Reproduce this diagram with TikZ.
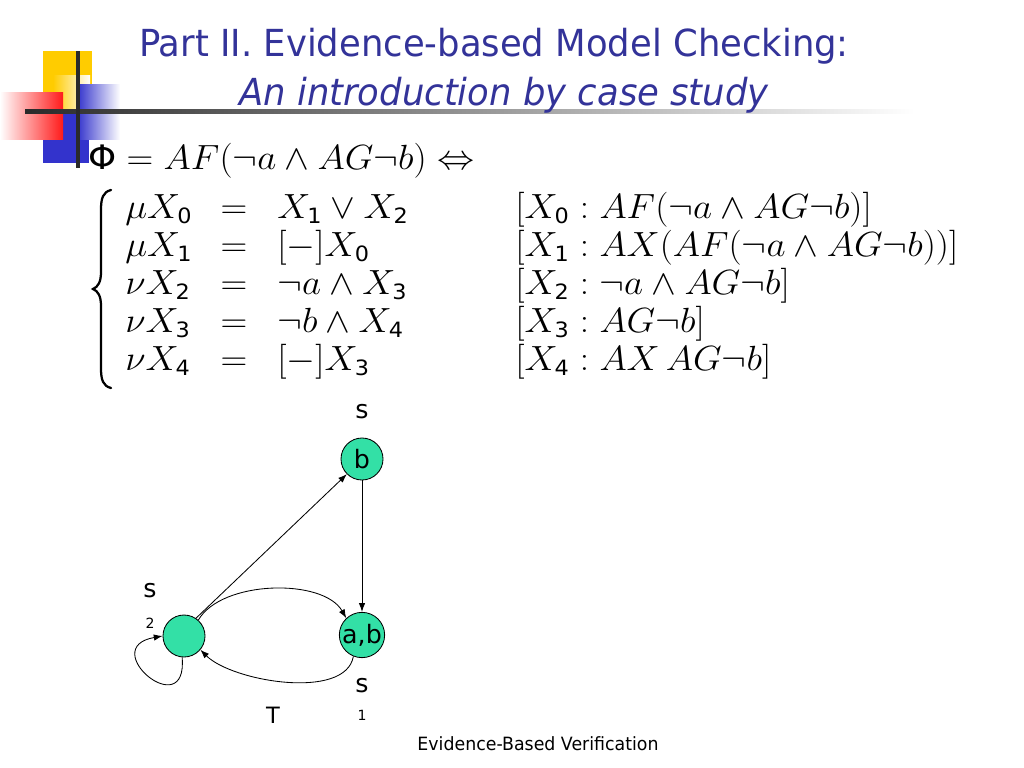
\documentclass[tikz,border=0pt]{standalone}
\usepackage{fontspec}
\setmainfont{DejaVu Sans}
\newfontfamily\titlefont[FakeStretch=0.95]{DejaVu Sans}
\usepackage{tikz}
\usetikzlibrary{positioning,arrows.meta}
\definecolor{titleblue}{HTML}{333399}
\definecolor{logoyellow}{HTML}{FFCC00}
\definecolor{logoblue}{HTML}{3333CC}
\definecolor{logored}{HTML}{FF1A1A}
\definecolor{statefill}{HTML}{33E0A6}
\definecolor{rulegray}{HTML}{2A2A2A}
% sans-serif index, as the slide sets it
\newcommand\idx[1]{_{\mbox{\fontsize{15}{15}\selectfont #1}}}
% the slide's formulas are set a little wide
\newcommand\wideeq[1]{\scalebox{1.06}[1]{$#1$}}
\tikzset{
  % --- slide text ---
  slidetitle/.style={anchor=base, inner sep=0pt, text=titleblue,
                     font=\titlefont\fontsize{26.5}{30}\selectfont},
  eqtext/.style={anchor=base west, inner sep=0pt,
                 font=\fontsize{24}{28}\selectfont},
  % --- Kripke structure ---
  ktstate/.style={circle, draw=black, line width=0.6pt, fill=statefill,
                  minimum size=10.5mm, inner sep=0pt,
                  font=\fontsize{18}{18}\selectfont},
  ktlabel/.style={anchor=base, inner sep=0pt, font=\fontsize{18}{18}\selectfont},
  ktsub/.style={anchor=base, inner sep=0pt, font=\fontsize{10}{10}\selectfont},
  kttrans/.style={-{Latex[length=2.2mm,width=1.6mm]}, line width=0.6pt,
                  draw=black},
}
\begin{document}
\begin{tikzpicture}[x=0.025cm, y=0.025cm]
  \useasboundingbox (0,0) rectangle (1024,-768);

  % --- logo and title rule ---
  \fill[logoyellow] (43,-51) rectangle (92,-112);
  \fill[logoblue] (43,-112) rectangle (89,-163);
  \shade[left color=logoyellow, right color=white] (53,-76) rectangle (90,-112);
  \shade[left color=white, right color=logored] (0,-93) rectangle (63,-140);
  \shade[left color=logoblue, right color=white] (77,-85) rectangle (120,-140);
  \shade[left color=rulegray, middle color=black!40, right color=white]
        (25,-110) rectangle (915,-114);
  \fill[rulegray] (76,-51) rectangle (80,-168);

  \node[slidetitle] (t1) at (494,-57) {Part II. Evidence-based Model Checking:};
  \node[slidetitle] (t2) at (504,-106) {\itshape An introduction by case study};

  % --- the formula and its equation system ---
  \node[eqtext] (phi) at (88,-170)
        {\wideeq{\mbox{Φ} = AF(\neg a \wedge AG\neg b) \Leftrightarrow}};
  \draw[line width=1.6pt, line cap=round]
        (111,-190) .. controls (103,-192) and (101,-198) .. (101,-210)
        -- (101,-272) .. controls (101,-282) and (98,-287) .. (93,-289)
        .. controls (98,-291) and (101,-296) .. (101,-306)
        -- (101,-368) .. controls (101,-380) and (103,-386) .. (111,-388);

  \node[eqtext] (lhs0) at (125,-218) {\wideeq{\mu X\idx{0}}};
  \node[eqtext] (lhs1) at (125,-256) {\wideeq{\mu X\idx{1}}};
  \node[eqtext] (lhs2) at (125,-294) {\wideeq{\nu X\idx{2}}};
  \node[eqtext] (lhs3) at (125,-332) {\wideeq{\nu X\idx{3}}};
  \node[eqtext] (lhs4) at (125,-370) {\wideeq{\nu X\idx{4}}};

  \node[eqtext, anchor=base] (eq0) at (234,-218) {\wideeq{=}};
  \node[eqtext, anchor=base] (eq1) at (234,-256) {\wideeq{=}};
  \node[eqtext, anchor=base] (eq2) at (234,-294) {\wideeq{=}};
  \node[eqtext, anchor=base] (eq3) at (234,-332) {\wideeq{=}};
  \node[eqtext, anchor=base] (eq4) at (234,-370) {\wideeq{=}};

  \node[eqtext] (rhs0) at (277,-218) {\wideeq{X\idx{1} \vee X\idx{2}}};
  \node[eqtext] (rhs1) at (277,-256) {\wideeq{[-]X\idx{0}}};
  \node[eqtext] (rhs2) at (277,-294) {\wideeq{\neg a \wedge X\idx{3}}};
  \node[eqtext] (rhs3) at (277,-332) {\wideeq{\neg b \wedge X\idx{4}}};
  \node[eqtext] (rhs4) at (277,-370) {\wideeq{[-]X\idx{3}}};

  \node[eqtext] (ann0) at (515,-218) {\wideeq{[X\idx{0} : AF(\neg a \wedge AG\neg b)]}};
  \node[eqtext] (ann1) at (515,-256) {\wideeq{[X\idx{1} : AX(AF(\neg a \wedge AG\neg b))]}};
  \node[eqtext] (ann2) at (515,-294) {\wideeq{[X\idx{2} : \neg a \wedge AG\neg b]}};
  \node[eqtext] (ann3) at (515,-332) {\wideeq{[X\idx{3} : AG\neg b]}};
  \node[eqtext] (ann4) at (515,-370) {\wideeq{[X\idx{4} : AX\,AG\neg b]}};

  % --- states ---
  \node[ktstate] (b)  at (362,-459) {b};
  \node[ktstate] (s1) at (362,-635) {a,b};
  \node[ktstate] (s2) at (184,-636) {};

  \node[ktlabel] (lb)   at (362,-418) {s};
  \node[ktlabel] (ls2)  at (150,-597) {s};
  \node[ktsub]   (ls2i) at (150,-628) {2};
  \node[ktlabel] (ls1)  at (362,-692) {s};
  \node[ktsub]   (ls1i) at (362,-720) {1};
  \node[ktlabel, font=\fontsize{16}{16}\selectfont] (lt) at (273,-723) {T};

  % --- transitions ---
  \draw[kttrans] (s2.56) -- (b.225);
  \draw[kttrans] (b) -- (s1);
  \draw[kttrans] (s2.48) to[out=60, in=120, looseness=0.8] (s1.133);
  \draw[kttrans] (s1.-112) to[out=-100, in=-45, looseness=0.75] (s2.-40);
  \draw[kttrans] (s2.-95) to[out=-85, in=190, looseness=6] (s2.180);

  \node[anchor=base, inner sep=0pt, font=\titlefont\fontsize{13}{15}\selectfont]
        (foot) at (538,-750) {Evidence-Based Verification};
\end{tikzpicture}
\end{document}
